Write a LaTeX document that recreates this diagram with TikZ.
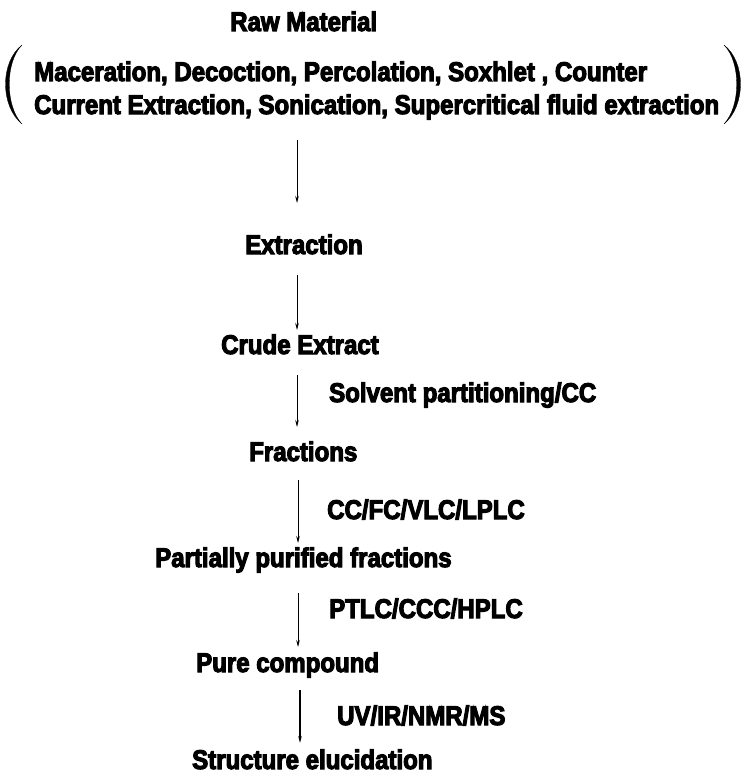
\documentclass[tikz,border=0pt]{standalone}
\usepackage{fontspec}
\newfontfamily\lab{Liberation Sans Bold}[FakeBold=4,FakeStretch=0.89]
\usetikzlibrary{arrows.meta}
\begin{document}
\begin{tikzpicture}[x=1pt,y=-1pt,
  txt/.style={inner sep=0pt,anchor=base west,font=\lab\fontsize{27}{30}\selectfont},
  flow/.style={-{Stealth[length=7pt,width=3.5pt]},line width=0.7pt},
  paren/.style={fill=black,draw=black,line width=0.3pt}]
\useasboundingbox (0,0) rectangle (745,776);
\node[txt] (raw) at (230,31) {Raw Material};
\node[txt] (m1) at (34,81) {Maceration, Decoction, Percolation, Soxhlet , Counter};
\node[txt] (m2) at (34,114) {Current Extraction, Sonication, Supercritical fluid extraction};
\draw[paren] (22,45) .. controls (0,62) and (0,106) .. (22,124)
  .. controls (5,106) and (5,62) .. cycle;
\draw[paren] (724,45) .. controls (746,62) and (746,106) .. (724,124)
  .. controls (741,106) and (741,62) .. cycle;
\coordinate (a1s) at (297,140);
\coordinate (a1e) at (297,203);
\node[txt] (ext) at (245,254) {Extraction};
\node[txt] (crude) at (221,354) {Crude Extract};
\node[txt] (solv) at (329,402) {Solvent partitioning/CC};
\node[txt] (frac) at (249,461) {Fractions};
\node[txt] (cc) at (327,519) {CC/FC/VLC/LPLC};
\node[txt] (part) at (155,567) {Partially purified fractions};
\node[txt] (ptlc) at (329,618) {PTLC/CCC/HPLC};
\node[txt] (pure) at (196,672) {Pure compound};
\node[txt] (uv) at (337,725) {UV/IR/NMR/MS};
\node[txt] (struct) at (192,769) {Structure elucidation};
\draw[flow] (a1s) -- (a1e);
\draw[flow] (297,275) -- (297,330);
\draw[flow] (297,375) -- (297,427);
\draw[flow] (298,480) -- (298,543);
\draw[flow] (298,593) -- (298,647);
\draw[flow,line width=1.3pt] (300,690) -- (300,743);
\end{tikzpicture}
\end{document}
